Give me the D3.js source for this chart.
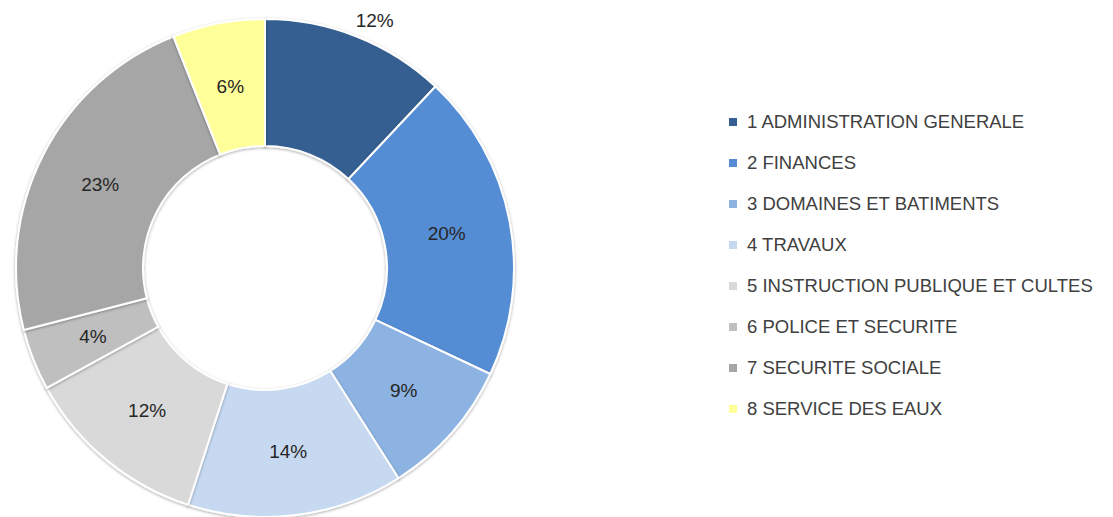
<!DOCTYPE html>
<html lang="fr">
<head>
  <meta charset="UTF-8" />
  <title>Répartition des dépenses</title>
  <script src="https://d3js.org/d3.v7.min.js"></script>
  <style>
    body { margin: 0; background: #fff; }
    svg { display: block; font-family: "Liberation Sans", "DejaVu Sans", sans-serif; }
  </style>
</head>
<body>
  <div id="chart"></div>

  <script>
    // data
    const categories = [
      "1 ADMINISTRATION GENERALE",
      "2 FINANCES",
      "3 DOMAINES ET BATIMENTS",
      "4 TRAVAUX",
      "5 INSTRUCTION PUBLIQUE ET CULTES",
      "6 POLICE ET SECURITE",
      "7 SECURITE SOCIALE",
      "8 SERVICE DES EAUX"
    ];
    const values = [12, 20, 9, 14, 12, 4, 23, 6];
    const colors = ["#355f91", "#548dd5", "#8db3e2", "#c6d9f1", "#d9d9d9", "#bfbfbf", "#a6a6a6", "#ffff99"];

    const width = 1113, height = 517;
    const cx = 265, cy = 268, outerR = 249, innerR = 122;

    const svg = d3.select("#chart")
      .append("svg")
      .attr("width", width)
      .attr("height", height);

    // soft shadow like the office chart
    const defs = svg.append("defs");
    defs.append("filter")
      .attr("id", "shadow")
      .attr("x", "-10%").attr("y", "-10%")
      .attr("width", "120%").attr("height", "120%")
      .append("feDropShadow")
      .attr("dx", 0).attr("dy", 1)
      .attr("stdDeviation", 1.5)
      .attr("flood-color", "#000")
      .attr("flood-opacity", 0.35);

    const data = categories.map((c, i) => ({ name: c, value: values[i], color: colors[i] }));

    const pie = d3.pie()
      .value(d => d.value)
      .sort(null);

    const arc = d3.arc()
      .innerRadius(innerR)
      .outerRadius(outerR);

    const labelArc = d3.arc()
      .innerRadius(185)
      .outerRadius(185);

    const g = svg.append("g")
      .attr("transform", `translate(${cx},${cy})`);

    const arcs = pie(data);

    g.selectAll("path")
      .data(arcs)
      .enter()
      .append("path")
      .attr("d", arc)
      .attr("fill", d => d.data.color)
      .attr("stroke", "#fff")
      .attr("stroke-width", 2)
      .attr("filter", "url(#shadow)");

    // first label sits outside the ring in the reference
    const outside = d3.arc().innerRadius(outerR).outerRadius(outerR);

    g.selectAll("text.pct")
      .data(arcs)
      .enter()
      .append("text")
      .attr("class", "pct")
      .attr("transform", (d, i) => {
        if (i === 0) {
          const [x, y] = outside.centroid(d);
          return `translate(${x + 18},${y - 16})`;
        }
        return `translate(${labelArc.centroid(d)})`;
      })
      .attr("text-anchor", "middle")
      .attr("dy", "0.35em")
      .attr("fill", "#262626")
      .style("font-size", "19px")
      .text(d => d.data.value + "%");

    // legend
    const legend = svg.append("g")
      .attr("transform", "translate(729,122)");

    const rowH = 41;

    const item = legend.selectAll("g")
      .data(data)
      .enter()
      .append("g")
      .attr("transform", (d, i) => `translate(0,${i * rowH})`);

    item.append("rect")
      .attr("x", 0)
      .attr("y", -4)
      .attr("width", 8)
      .attr("height", 8)
      .attr("fill", d => d.color);

    item.append("text")
      .attr("x", 18)
      .attr("dy", "0.35em")
      .attr("fill", "#404040")
      .style("font-size", "18.5px")
      .text(d => d.name);
  </script>
</body>
</html>
